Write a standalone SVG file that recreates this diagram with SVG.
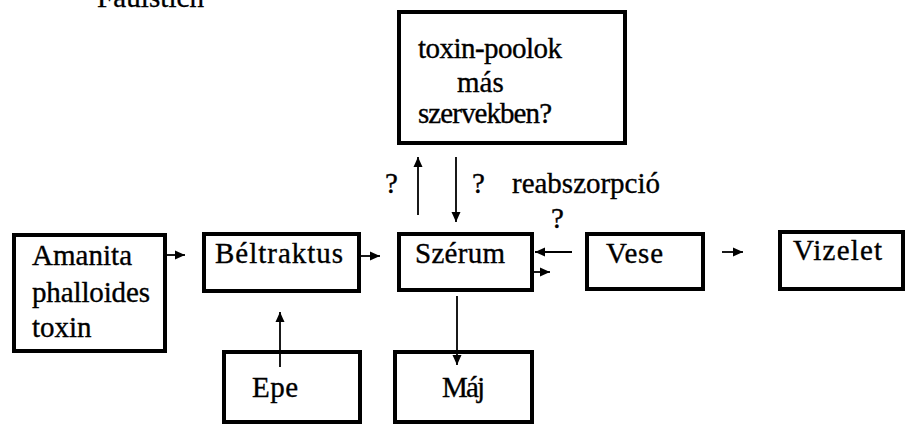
<svg xmlns="http://www.w3.org/2000/svg" width="907" height="427" viewBox="0 0 907 427">
<defs>
<marker id="ah" markerUnits="userSpaceOnUse" markerWidth="10" markerHeight="10" viewBox="0 0 10 10" refX="10" refY="5" orient="auto">
<path d="M0,0.5 L10,5 L0,9.5 Z" fill="#000"/>
</marker>
</defs>
<style>
.box{fill:#fff;stroke:#000;stroke-width:4}
.t{font-family:'Liberation Serif','DejaVu Serif','Times New Roman',serif;font-size:29px;fill:#000;stroke:#000;stroke-width:0.35}
.c{stroke:#000;stroke-width:1.8;fill:none;marker-end:url(#ah)}
</style>
<rect width="907" height="427" fill="#fff"/>
<text class="t" x="97" y="7" textLength="107" lengthAdjust="spacing">Faulstich</text>
<g id="node-pool">
<rect class="box" x="399" y="12" width="226" height="131"/>
<text class="t" x="418" y="58" textLength="144" lengthAdjust="spacing">toxin-poolok</text>
<text class="t" x="457" y="92">más</text>
<text class="t" x="418" y="123" textLength="134" lengthAdjust="spacing">szervekben?</text>
</g>
<g id="node-amanita">
<rect class="box" x="14" y="235" width="151" height="116"/>
<text class="t" x="32" y="265" textLength="100" lengthAdjust="spacing">Amanita</text>
<text class="t" x="32" y="302" textLength="118" lengthAdjust="spacing">phalloides</text>
<text class="t" x="32" y="337">toxin</text>
</g>
<g id="node-beltraktus">
<rect class="box" x="204" y="234" width="155" height="57"/>
<text class="t" x="215" y="263" textLength="128" lengthAdjust="spacing">Béltraktus</text>
</g>
<g id="node-szerum">
<rect class="box" x="399" y="234" width="133" height="56"/>
<text class="t" x="415" y="263" textLength="90" lengthAdjust="spacing">Szérum</text>
</g>
<g id="node-vese">
<rect class="box" x="587" y="234" width="116" height="55"/>
<text class="t" x="606" y="263" textLength="57" lengthAdjust="spacing">Vese</text>
</g>
<g id="node-vizelet">
<rect class="box" x="780" y="232" width="123" height="57"/>
<text class="t" x="793" y="260" textLength="89" lengthAdjust="spacing">Vizelet</text>
</g>
<g id="node-epe">
<rect class="box" x="224" y="352" width="136" height="70"/>
<text class="t" x="252" y="397" textLength="46" lengthAdjust="spacing">Epe</text>
</g>
<g id="node-maj">
<rect class="box" x="395" y="352" width="137" height="70"/>
<text class="t" x="442" y="397" textLength="43" lengthAdjust="spacing">Máj</text>
</g>
<g id="connectors">
<line class="c" x1="167" y1="255" x2="185" y2="255"/>
<line class="c" x1="361" y1="256" x2="380" y2="256"/>
<line class="c" x1="418" y1="215" x2="418" y2="157"/>
<line class="c" x1="456" y1="157" x2="456" y2="222"/>
<line class="c" x1="572" y1="252" x2="535" y2="252"/>
<line class="c" x1="534" y1="272" x2="550" y2="272"/>
<line class="c" x1="722" y1="252" x2="743" y2="252"/>
<line class="c" x1="457" y1="296" x2="457" y2="365"/>
<line class="c" x1="280" y1="367" x2="280" y2="312"/>
<text class="t" x="385" y="193">?</text>
<text class="t" x="472" y="193">?</text>
<text class="t" x="512" y="193" textLength="148" lengthAdjust="spacing">reabszorpció</text>
<text class="t" x="551" y="228">?</text>
</g>
</svg>
